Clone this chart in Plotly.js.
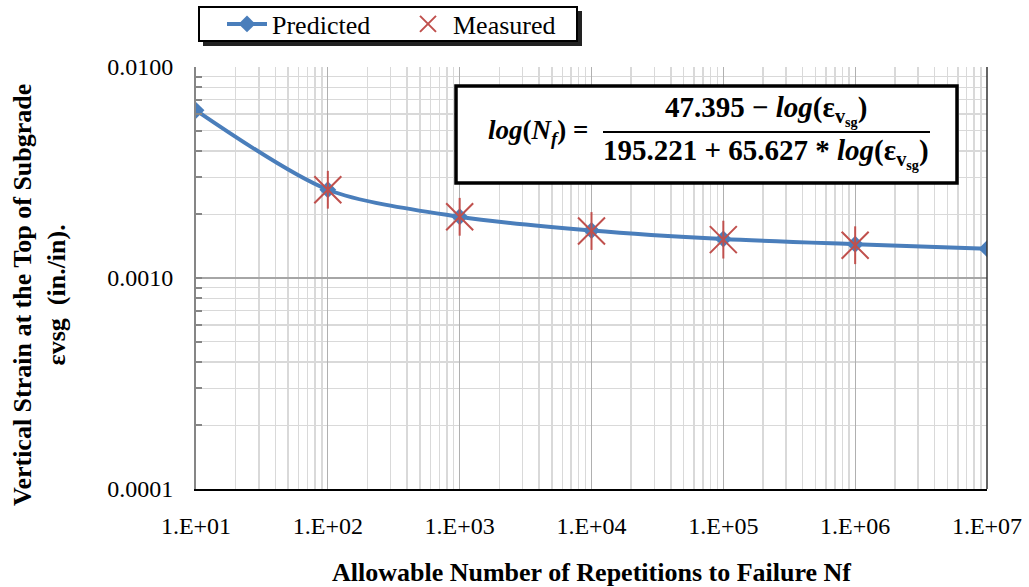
<!DOCTYPE html>
<html><head><meta charset="utf-8">
<script src="https://cdn.plot.ly/plotly-3.0.1.min.js"></script>
<style>html,body{margin:0;padding:0;background:#fff}#chart{width:1029px;height:587px}</style>
</head><body><div id="chart"></div>
<script>
// Data
const cycles = [1e1, 1e2, 1e3, 1e4, 1e5, 1e6, 1e7];
const predictedStrain = [0.00623, 0.00262, 0.00195, 0.00168, 0.00153, 0.001446, 0.001377];
const measuredCycles = [1e2, 1e3, 1e4, 1e5, 1e6];
const measuredStrain = [0.00262, 0.00195, 0.00167, 0.00152, 0.00143];
const xTickVals = [1e1, 1e2, 1e3, 1e4, 1e5, 1e6, 1e7];
const xTickText = ['1.E+01', '1.E+02', '1.E+03', '1.E+04', '1.E+05', '1.E+06', '1.E+07'];
const yTickVals = [0.0001, 0.001, 0.01];
const yTickText = ['0.0001', '0.0010', '0.0100'];

function minorVals(d0, d1) {
  const out = [];
  for (let d = d0; d < d1; d++) for (let k = 2; k <= 9; k++) out.push(k * Math.pow(10, d));
  return out;
}

const serif = 'Liberation Serif';
const blue = '#4a7ebb';
const red = '#c0504d';

const traces = [
  {x: cycles, y: predictedStrain, name: 'Predicted', mode: 'lines+markers',
   line: {color: blue, width: 4, shape: 'spline', smoothing: 0.8},
   marker: {symbol: 'diamond', size: 13, color: blue}},
  {x: measuredCycles, y: measuredStrain, name: 'Measured', mode: 'markers',
   marker: {symbol: 'x-thin-open', size: 27, line: {color: red, width: 2}, color: red}},
  {x: measuredCycles, y: measuredStrain, name: 'Measured', mode: 'markers', showlegend: false,
   marker: {symbol: 'line-ns-open', size: 27, line: {color: red, width: 2}, color: red}}
];

const L = 196, R = 987, T = 67, B = 489, W = R - L, H = B - T;
const px = v => (v - L) / W;
const py = v => (B - v) / H;

const eqFont = {family: serif, size: 29, color: '#000'};
const eps = 'ε<sub>v<sub>sg</sub></sub>';

const layout = {
  width: 1029, height: 587,
  margin: {l: L, r: 1029 - R, t: T, b: 587 - B, autoexpand: false},
  paper_bgcolor: '#fff', plot_bgcolor: '#fff',
  font: {family: serif, size: 24, color: '#000'},
  showlegend: true,
  legend: {orientation: 'h', x: px(222), y: py(24), xanchor: 'left', yanchor: 'middle',
    bgcolor: 'rgba(0,0,0,0)', borderwidth: 0,
    font: {family: serif, size: 26, color: '#000'},
    entrywidth: 126, entrywidthmode: 'pixels', itemwidth: 40,
    tracegroupgap: 0},
  xaxis: {type: 'log', range: [1, 7], tickmode: 'array', tickvals: xTickVals, ticktext: xTickText,
    showgrid: true, gridcolor: '#b0b0b0', gridwidth: 1,
    showline: true, linecolor: '#000', linewidth: 2, ticks: '', ticklabelstandoff: 14,
    tickfont: {family: serif, size: 24},
    minor: {tickmode: 'array', tickvals: minorVals(1, 7), showgrid: true, gridcolor: '#d9d9d9', gridwidth: 1.5, ticks: ''},
    zeroline: false,
    title: {text: '<b>Allowable Number of Repetitions to Failure Nf</b>', font: {family: serif, size: 26}, standoff: 26}},
  yaxis: {type: 'log', range: [-4, -2], tickmode: 'array', tickvals: yTickVals, ticktext: yTickText,
    showgrid: true, gridcolor: '#a6a6a6', gridwidth: 1.5,
    showline: true, linecolor: '#868686', linewidth: 2, ticks: 'inside', ticklen: 6, tickcolor: '#868686', tickwidth: 2,
    ticklabelstandoff: 16,
    tickfont: {family: serif, size: 24},
    minor: {tickmode: 'array', tickvals: minorVals(-4, -2), showgrid: true, gridcolor: '#d9d9d9', gridwidth: 1.5,
      ticks: 'inside', ticklen: 6, tickcolor: '#868686', tickwidth: 2},
    zeroline: false},
  shapes: [
    // legend shadow
    {type: 'rect', xref: 'paper', yref: 'paper', x0: px(203), x1: px(582), y0: py(46), y1: py(11),
     fillcolor: '#222', line: {width: 0}, layer: 'above'},
    // legend box
    {type: 'rect', xref: 'paper', yref: 'paper', x0: px(199), x1: px(577), y0: py(41), y1: py(7),
     fillcolor: '#fff', line: {color: '#000', width: 2}, layer: 'above'},
    // right border
    {type: 'line', xref: 'paper', yref: 'paper', x0: 1, x1: 1, y0: 0, y1: 1, line: {color: '#333', width: 1.5}},
    // equation box
    {type: 'rect', xref: 'paper', yref: 'paper', x0: px(456), x1: px(957), y0: py(183), y1: py(86),
     fillcolor: '#fff', line: {color: '#000', width: 3.5}, layer: 'above'},
    // fraction bar
    {type: 'line', xref: 'paper', yref: 'paper', x0: px(603), x1: px(930), y0: py(132), y1: py(132),
     line: {color: '#000', width: 2}, layer: 'above'}
  ],
  annotations: [
    // y axis title
    {xref: 'paper', yref: 'paper', x: px(39), y: py(295), xanchor: 'center', yanchor: 'middle', showarrow: false,
     textangle: -90, text: '<b>Vertical Strain at the Top of Subgrade<br>εvsg  (in./in).</b>',
     font: {family: serif, size: 26, color: '#000'}},
    {xref: 'paper', yref: 'paper', x: px(538), y: py(132), xanchor: 'center', yanchor: 'middle', showarrow: false,
     text: '<b><i>log</i>(<i>N<sub>f</sub></i>) =</b>', font: {family: serif, size: 27, color: '#000'}},
    {xref: 'paper', yref: 'paper', x: px(766), y: py(110), xanchor: 'center', yanchor: 'middle', showarrow: false,
     text: '<b>47.395 − <i>log</i>(' + eps + ')</b>', font: eqFont},
    {xref: 'paper', yref: 'paper', x: px(766), y: py(153), xanchor: 'center', yanchor: 'middle', showarrow: false,
     text: '<b>195.221 + 65.627 * <i>log</i>(' + eps + ')</b>', font: eqFont}
  ]
};

Plotly.newPlot('chart', traces, layout, {displayModeBar: false, staticPlot: true});
</script></body></html>
